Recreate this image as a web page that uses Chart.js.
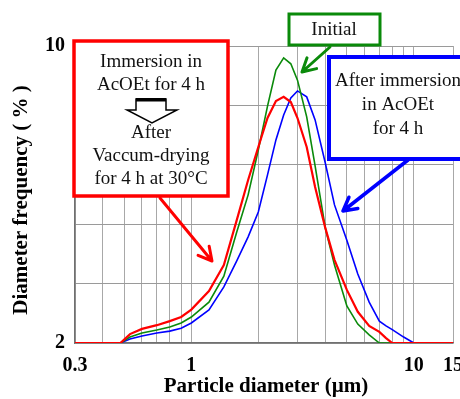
<!DOCTYPE html>
<html>
<head>
<meta charset="utf-8">
<script src="https://cdn.jsdelivr.net/npm/chart.js@4"></script>
<style>
  html, body { margin: 0; padding: 0; background: #fff; }
  #wrap { width: 460px; height: 399px; position: relative; }
</style>
</head>
<body>
<div id="wrap"><canvas id="psdChart"></canvas></div>
<script>
// Particle size distribution
const diameters = [0.3, 0.48, 0.53, 0.6, 0.7, 0.8, 0.9, 1.0, 1.2, 1.4, 1.6, 1.8, 2.0, 2.2, 2.4, 2.6, 2.8, 3.0, 3.3, 3.6, 4.0, 4.4, 5.0, 5.6, 6.3, 7.0, 7.5, 8.0, 9.0, 10, 15];
const driedFreq = [2, 2, 2.24, 2.38, 2.48, 2.59, 2.70, 2.90, 3.40, 4.10, 5.31, 6.39, 7.28, 8.06, 8.52, 8.63, 8.49, 8.06, 7.28, 6.20, 5.10, 4.24, 3.43, 2.84, 2.46, 2.30, 2.13, 2.0, 2, 2, 2];
const initialFreq = [2, 2, 2.16, 2.27, 2.35, 2.43, 2.54, 2.70, 3.10, 3.80, 4.99, 5.99, 7.20, 8.38, 9.35, 9.68, 9.52, 9.08, 8.09, 6.77, 5.10, 4.10, 3.00, 2.51, 2.22, 2.0, 2, 2, 2, 2, 2];
const immersedFreq = [2, 2, 2.11, 2.19, 2.27, 2.32, 2.40, 2.54, 2.89, 3.51, 4.21, 4.86, 5.53, 6.53, 7.47, 8.14, 8.60, 8.79, 8.63, 8.01, 6.85, 5.72, 4.77, 3.86, 3.10, 2.59, 2.46, 2.36, 2.16, 2.0, 2];

const xTicks = [0.3, 0.4, 0.5, 0.6, 0.7, 0.8, 0.9, 1, 2, 3, 4, 5, 6, 7, 8, 9, 10, 15];
const xLabels = [0.3, 1, 10, 15];
const yTicks = [2, 3.6, 5.2, 6.8, 8.4, 10];
const yLabels = [2, 10];

const RED = '#ff0000', GREEN = '#0a8a0a', BLUE = '#0000ff';
const SERIF = "'Liberation Serif', 'DejaVu Serif', serif";

function toPoints(ys) {
    return diameters.map((d, i) => ({ x: d, y: ys[i] }));
}

function arrow(ctx, x1, y1, x2, y2, color, w) {
    const a = Math.atan2(y2 - y1, x2 - x1);
    const len = 15, spread = 0.5;
    ctx.save();
    ctx.strokeStyle = color;
    ctx.lineWidth = w;
    ctx.lineCap = 'round';
    ctx.lineJoin = 'round';
    ctx.beginPath();
    ctx.moveTo(x1, y1);
    ctx.lineTo(x2, y2);
    ctx.moveTo(x2 - len * Math.cos(a - spread), y2 - len * Math.sin(a - spread));
    ctx.lineTo(x2, y2);
    ctx.lineTo(x2 - len * Math.cos(a + spread), y2 - len * Math.sin(a + spread));
    ctx.stroke();
    ctx.restore();
}

function box(ctx, x, y, w, h, color, lw, lines, cx, ys) {
    ctx.save();
    ctx.fillStyle = '#fff';
    ctx.fillRect(x, y, w, h);
    ctx.strokeStyle = color;
    ctx.lineWidth = lw;
    ctx.strokeRect(x, y, w, h);
    ctx.fillStyle = '#111';
    ctx.font = '19px ' + SERIF;
    ctx.textAlign = 'center';
    ctx.textBaseline = 'middle';
    lines.forEach((t, i) => ctx.fillText(t, cx, ys[i]));
    ctx.restore();
}

// titles and callouts
const annotations = {
    id: 'annotations',
    afterDraw(chart) {
        const ctx = chart.ctx;

        ctx.save();
        ctx.fillStyle = '#000';
        ctx.font = 'bold 21px ' + SERIF;
        ctx.textAlign = 'center';
        ctx.textBaseline = 'middle';
        ctx.fillText('Particle diameter (\u00b5m)', 266, 387);
        ctx.translate(22, 200);
        ctx.rotate(-Math.PI / 2);
        ctx.fillText('Diameter frequency ( % )', 0, 0);
        ctx.restore();

        // red callout
        box(ctx, 74, 41, 154, 155, RED, 3.5,
            ['Immersion in', 'AcOEt for 4 h', 'After', 'Vaccum-drying', 'for 4 h at 30\u00b0C'],
            151, [62, 85, 133, 156, 179]);
        ctx.save();
        ctx.beginPath();
        ctx.moveTo(136, 99); ctx.lineTo(166, 99); ctx.lineTo(166, 110);
        ctx.lineTo(177, 110); ctx.lineTo(152, 123); ctx.lineTo(127, 110);
        ctx.lineTo(136, 110); ctx.closePath();
        ctx.fillStyle = '#fff';
        ctx.fill();
        ctx.strokeStyle = '#000';
        ctx.lineWidth = 1.5;
        ctx.stroke();
        ctx.fillStyle = '#000';
        ctx.fillRect(136, 98, 30, 3.5);
        ctx.restore();
        arrow(ctx, 160, 198, 212, 261, RED, 3);

        // green callout
        box(ctx, 289, 14, 91, 31, GREEN, 3, ['Initial'], 334, [30]);
        arrow(ctx, 330, 47, 302, 72, GREEN, 3);

        // blue callout
        box(ctx, 329, 57, 140, 102, BLUE, 4,
            ['After immersion', 'in AcOEt', 'for 4 h'],
            398, [81, 105, 129]);
        arrow(ctx, 408, 160, 343, 211, BLUE, 3.5);
    }
};

const ctx = document.getElementById('psdChart').getContext('2d');
const psdChart = new Chart(ctx, {
    type: 'line',
    data: {
        datasets: [
            { label: 'After vacuum-drying', data: toPoints(driedFreq), borderColor: RED, borderWidth: 2.2 },
            { label: 'Initial', data: toPoints(initialFreq), borderColor: GREEN, borderWidth: 1.6 },
            { label: 'After immersion', data: toPoints(immersedFreq), borderColor: BLUE, borderWidth: 1.6 }
        ]
    },
    options: {
        responsive: true,
        maintainAspectRatio: false,
        animation: false,
        layout: { padding: { top: 46, right: 7, left: 0, bottom: 0 } },
        elements: {
            point: { radius: 0 },
            line: { tension: 0, fill: false }
        },
        plugins: {
            legend: { display: false },
            tooltip: { enabled: false }
        },
        scales: {
            x: {
                type: 'logarithmic',
                min: 0.3,
                max: 15,
                afterBuildTicks: (scale) => { scale.ticks = xTicks.map(v => ({ value: v })); },
                afterFit: (scale) => { scale.height = 56; scale.paddingLeft = 0; scale.paddingRight = 0; },
                grid: { color: '#a8a8a8', lineWidth: 1, drawTicks: false },
                border: { color: '#707070', width: 1.5 },
                ticks: {
                    autoSkip: false,
                    maxRotation: 0,
                    padding: 11,
                    color: '#000',
                    font: { family: SERIF, size: 20, weight: 'bold' },
                    callback: (v) => xLabels.includes(v) ? String(v) : ''
                }
            },
            y: {
                type: 'linear',
                min: 2,
                max: 10,
                afterBuildTicks: (scale) => { scale.ticks = yTicks.map(v => ({ value: v })); },
                afterFit: (scale) => { scale.width = 75; scale.paddingTop = 0; scale.paddingBottom = 0; },
                grid: { color: '#9a9a9a', lineWidth: 1, drawTicks: false },
                border: { color: '#707070', width: 1.5 },
                ticks: {
                    autoSkip: false,
                    padding: 10,
                    color: '#000',
                    font: { family: SERIF, size: 20, weight: 'bold' },
                    callback: (v) => yLabels.includes(v) ? String(v) : ''
                }
            }
        }
    },
    plugins: [annotations]
});
</script>
</body>
</html>
